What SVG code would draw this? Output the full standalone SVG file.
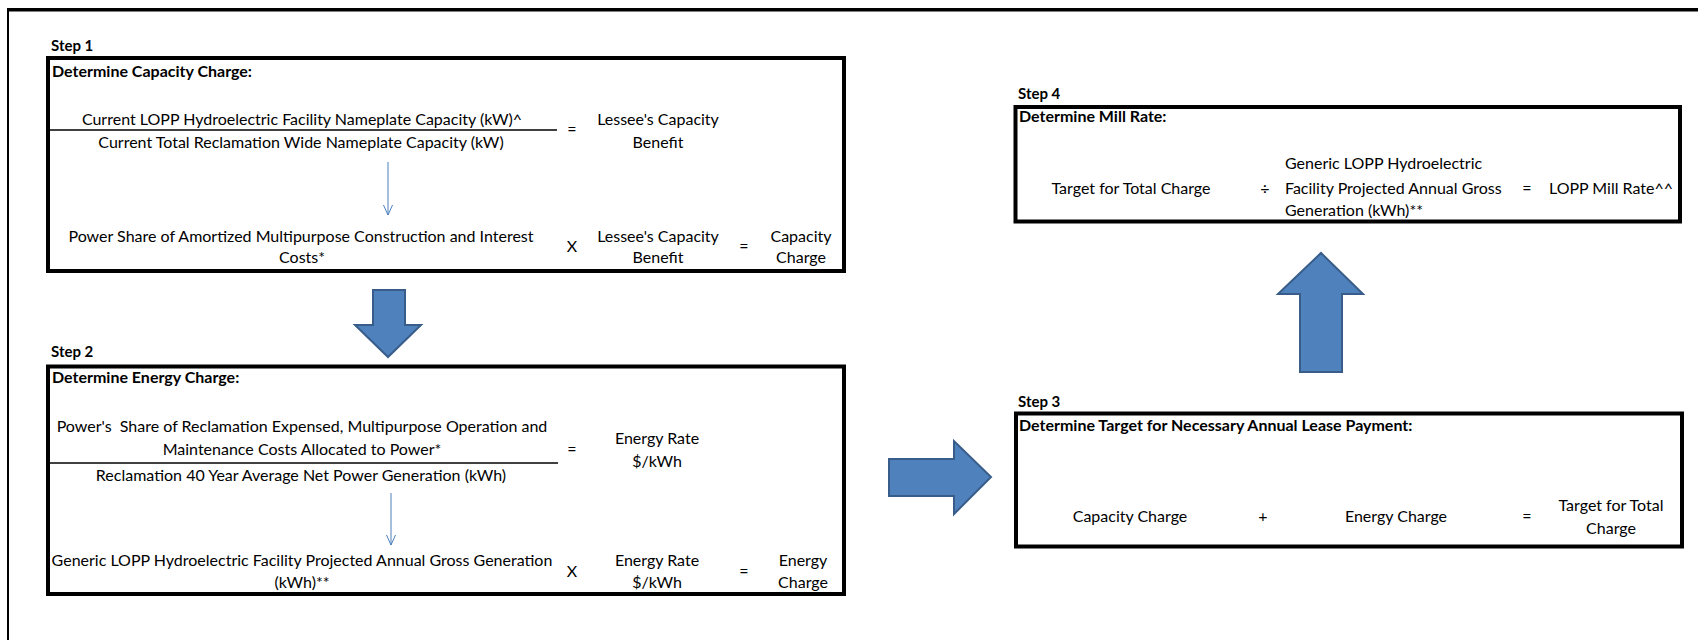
<svg xmlns="http://www.w3.org/2000/svg" width="1698" height="640" viewBox="0 0 1698 640">
<defs>
<style>
text{font-family:Lato,"Liberation Sans",sans-serif;font-size:16px;fill:#000}
.b{font-weight:bold;font-size:16px}
.s{font-weight:bold;font-size:15px}
.c{text-anchor:middle}
.box{fill:none;stroke:#000;stroke-width:4}
.frac{stroke:#000;stroke-width:1.5}
.blk{fill:#4f81bd;stroke:#385d8a;stroke-width:2;stroke-linejoin:miter}
.thin{stroke:#4a7ebb;stroke-width:1;fill:none}
</style>
<marker id="vh" markerWidth="12" markerHeight="10" refX="11" refY="5" orient="auto" markerUnits="userSpaceOnUse" viewBox="0 0 12 10">
<path d="M1,0.5 L11,5 L1,9.5" fill="none" stroke="#4a7ebb" stroke-width="1"/>
</marker>
</defs>
<rect width="1698" height="640" fill="#fff"/>
<g id="frame">
<rect x="7" y="8" width="1691" height="3.5" fill="#000"/>
<rect x="7" y="8" width="2" height="632" fill="#000"/>
</g>
<g id="step1">
<text class="s" x="51" y="51">Step 1</text>
<rect class="box" x="48" y="58" width="796" height="213"/>
<text class="b" x="52" y="77">Determine Capacity Charge:</text>
<text class="c" x="302" y="125">Current LOPP Hydroelectric Facility Nameplate Capacity (kW)^</text>
<line class="frac" x1="48" y1="130" x2="557" y2="130"/>
<text class="c" x="301" y="148">Current Total Reclamation Wide Nameplate Capacity (kW)</text>
<text class="c" x="572" y="135">=</text>
<text class="c" x="658" y="125">Lessee's Capacity</text>
<text class="c" x="658" y="148">Benefit</text>
<text class="c" x="301" y="242">Power Share of Amortized Multipurpose Construction and Interest</text>
<text class="c" x="302" y="263">Costs*</text>
<text class="c" x="572" y="252">X</text>
<text class="c" x="658" y="242">Lessee's Capacity</text>
<text class="c" x="658" y="263">Benefit</text>
<text class="c" x="744" y="252">=</text>
<text class="c" x="801" y="242">Capacity</text>
<text class="c" x="801" y="263">Charge</text>
</g>
<g id="step2">
<text class="s" x="51" y="357">Step 2</text>
<rect class="box" x="48" y="366.5" width="796" height="227.5"/>
<text class="b" x="52" y="383">Determine Energy Charge:</text>
<text class="c" x="302" y="432" xml:space="preserve">Power's  Share of Reclamation Expensed, Multipurpose Operation and</text>
<text class="c" x="302" y="455">Maintenance Costs Allocated to Power*</text>
<line class="frac" x1="48" y1="463" x2="558" y2="463"/>
<text class="c" x="301" y="481">Reclamation 40 Year Average Net Power Generation (kWh)</text>
<text class="c" x="572" y="455">=</text>
<text class="c" x="657" y="444">Energy Rate</text>
<text class="c" x="657" y="467">$/kWh</text>
<text class="c" x="302" y="566">Generic LOPP Hydroelectric Facility Projected Annual Gross Generation</text>
<text class="c" x="302" y="588">(kWh)**</text>
<text class="c" x="572" y="577">X</text>
<text class="c" x="657" y="566">Energy Rate</text>
<text class="c" x="657" y="588">$/kWh</text>
<text class="c" x="744" y="577">=</text>
<text class="c" x="803" y="566">Energy</text>
<text class="c" x="803" y="588">Charge</text>
</g>
<g id="step3">
<text class="s" x="1018" y="407">Step 3</text>
<rect class="box" x="1016" y="413.5" width="666" height="133"/>
<text class="b" x="1019" y="431">Determine Target for Necessary Annual Lease Payment:</text>
<text class="c" x="1130" y="522">Capacity Charge</text>
<text class="c" x="1263" y="522">+</text>
<text class="c" x="1396" y="522">Energy Charge</text>
<text class="c" x="1527" y="522">=</text>
<text class="c" x="1611" y="511">Target for Total</text>
<text class="c" x="1611" y="534">Charge</text>
</g>
<g id="step4">
<text class="s" x="1018" y="99">Step 4</text>
<rect class="box" x="1015.5" y="107" width="664.5" height="114.5"/>
<text class="b" x="1019" y="122">Determine Mill Rate:</text>
<text class="c" x="1131" y="194">Target for Total Charge</text>
<text class="c" x="1265" y="194">÷</text>
<text x="1285" y="169">Generic LOPP Hydroelectric</text>
<text x="1285" y="194">Facility Projected Annual Gross</text>
<text x="1285" y="216">Generation (kWh)**</text>
<text class="c" x="1527" y="194">=</text>
<text class="c" x="1611" y="194">LOPP Mill Rate^^</text>
</g>
<g id="connectors">
<line class="thin" x1="388" y1="162" x2="388" y2="215" marker-end="url(#vh)"/>
<line class="thin" x1="391" y1="493" x2="391" y2="545" marker-end="url(#vh)"/>
<polygon class="blk" points="373,290 405,290 405,325 421,325 388,357 355,325 373,325"/>
<polygon class="blk" points="889,459 954,459 954,441 991,477 954,514 954,496 889,496"/>
<polygon class="blk" points="1300,372 1300,294 1278,294 1321,253 1363,294 1342,294 1342,372"/>
</g>
</svg>
